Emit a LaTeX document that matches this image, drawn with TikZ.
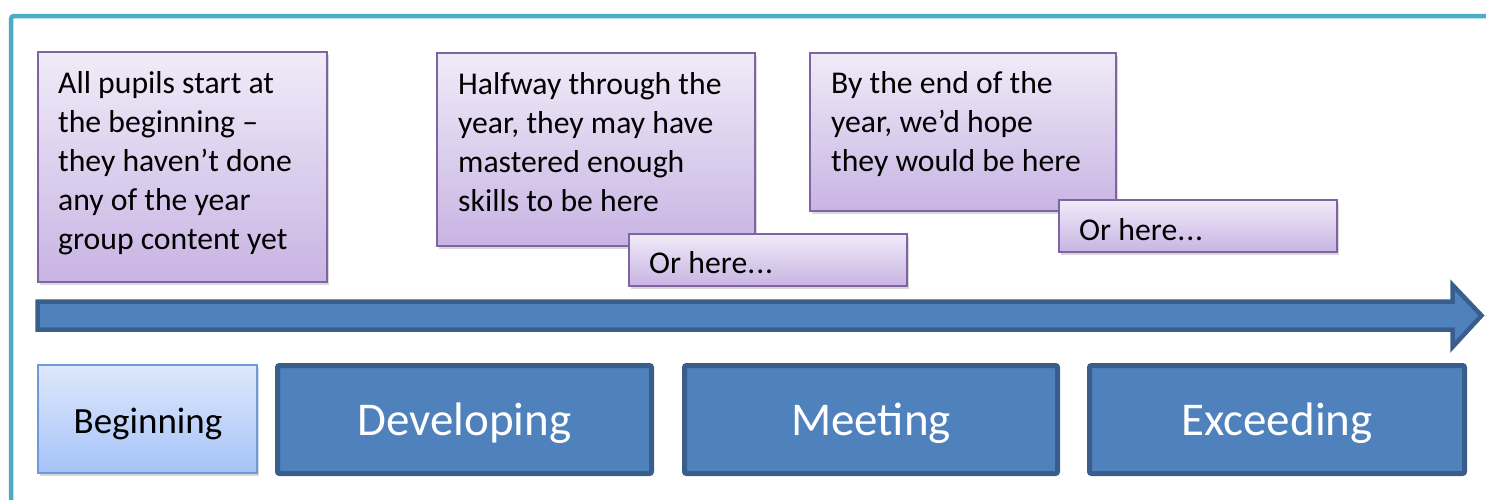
\documentclass[tikz,border=0pt]{standalone}
\usepackage{fontspec}
\setmainfont{Carlito}
\usetikzlibrary{shadows}
\definecolor{frameC}{HTML}{4BACC6}
\definecolor{purTop}{HTML}{F0EBF8}
\definecolor{purBot}{HTML}{C8B4E3}
\definecolor{purLine}{HTML}{8064A2}
\definecolor{bluTop}{HTML}{DFE8FC}
\definecolor{bluBot}{HTML}{A5C3F8}
\definecolor{bluLine}{HTML}{6E9BD8}
\definecolor{darkFill}{HTML}{4F81BD}
\definecolor{darkLine}{HTML}{3A5E8C}
\tikzset{
  notebox/.style={draw=purLine, line width=2pt, top color=purTop, bottom color=purBot,
    anchor=north west, inner sep=0pt, outer sep=0pt,
    drop shadow={opacity=0.3, shadow xshift=1.5pt, shadow yshift=-3pt}},
  notetext/.style={anchor=north west, inner sep=0pt, align=left, font=\fontsize{31.7}{39}\selectfont},
  begbox/.style={draw=bluLine, line width=2pt, top color=bluTop, bottom color=bluBot,
    anchor=north west, inner sep=0pt, outer sep=0pt,
    drop shadow={opacity=0.3, shadow xshift=1.5pt, shadow yshift=-3pt}},
  stagebox/.style={draw=darkLine, fill=darkFill, line width=5pt, rounded corners=2pt,
    anchor=north west, inner sep=0pt, outer sep=0pt},
  stagetext/.style={anchor=base, inner sep=0pt, text=white, font=\fontsize{47}{56}\selectfont},
  frameline/.style={draw=frameC, line width=4.5pt, rounded corners=3pt},
  timeline/.style={draw=darkLine, fill=darkFill, line width=4.5pt, line join=miter}
}
\begin{document}
\begin{tikzpicture}[x=1pt, y=-1pt]
\useasboundingbox (0,0) rectangle (1486,499);
% frame
\coordinate (fb) at (11,505);
\coordinate (fc) at (11,16);
\coordinate (fr) at (1492,16);
\path[frameline] (fb) -- (fc) -- (fr);
% note boxes
\node[notebox, minimum width=289pt, minimum height=230pt] (box1) at (38,52) {};
\node[notetext] (t1) at (58,65.7) {\strut All pupils start at\\the beginning --\\they haven't done\\any of the year\\group content yet};
\node[notebox, minimum width=318pt, minimum height=193pt] (box2) at (437,53) {};
\node[notetext] (t2) at (458,66.7) {\strut Halfway through the\\year, they may have\\mastered enough\\skills to be here};
\node[notebox, minimum width=278pt, minimum height=52pt] (box3) at (629,234) {};
\node[notetext] (t3) at (649,245.7) {\strut Or here.\kern1pt.\kern1pt.};
\node[notebox, minimum width=306pt, minimum height=158pt] (box4) at (810,53) {};
\node[notetext] (t4) at (831,65.7) {\strut By the end of the\\year, we'd hope\\they would be here};
\node[notebox, minimum width=278pt, minimum height=52pt] (box5) at (1059,200) {};
\node[notetext] (t5) at (1079,212.7) {\strut Or here.\kern1pt.\kern1pt.};
% timeline arrow
\path[timeline] (37.5,301.5) -- (1452.5,301.5) -- (1452.5,285) -- (1481.5,315.5) -- (1452.5,347) -- (1452.5,329.5) -- (37.5,329.5) -- cycle;
% stage boxes
\node[begbox, minimum width=219pt, minimum height=108pt] (beg) at (38,365) {};
\node[anchor=base, inner sep=0pt, font=\fontsize{37}{44}\selectfont] (tbeg) at (148,433) {Beginning};
\node[stagebox, minimum width=374pt, minimum height=108pt] (dev) at (277.5,365.5) {};
\node[stagetext] (tdev) at (464.5,435) {Developing};
\node[stagebox, minimum width=373pt, minimum height=108pt] (mee) at (684.5,365.5) {};
\node[stagetext] (tmee) at (871,435) {Meeting};
\node[stagebox, minimum width=375pt, minimum height=108pt] (exc) at (1089.5,365.5) {};
\node[stagetext] (texc) at (1277,435) {Exceeding};
\end{tikzpicture}
\end{document}
